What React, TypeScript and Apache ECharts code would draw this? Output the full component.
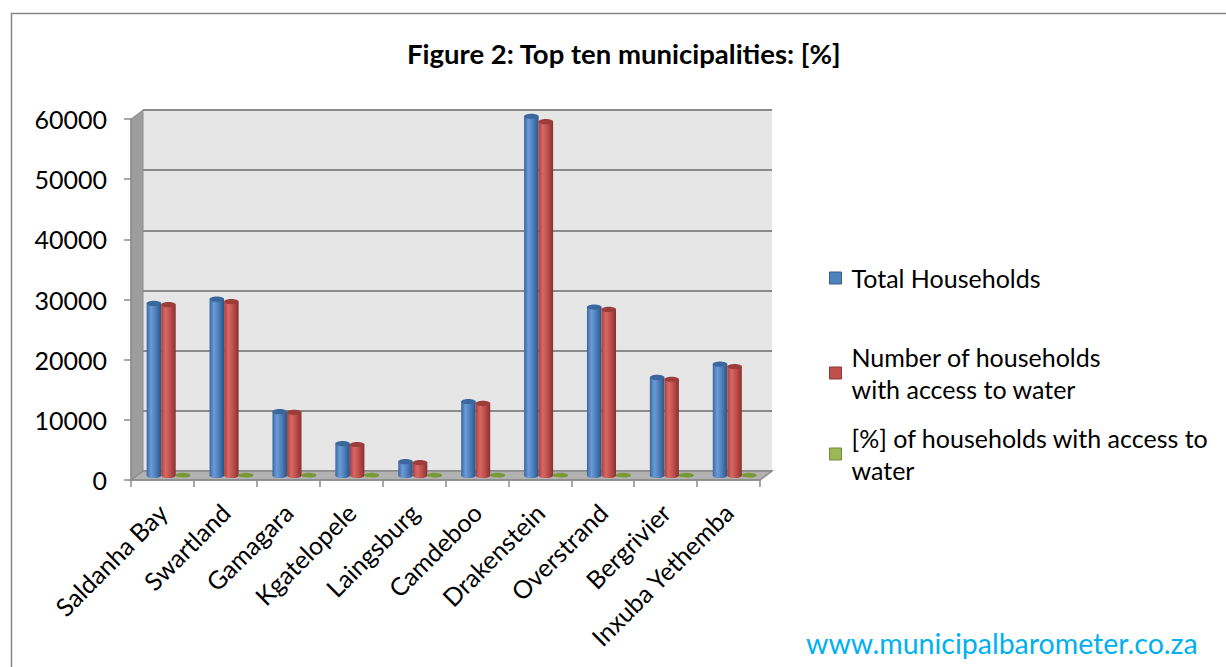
import React, { useEffect, useRef } from "react";
import * as echarts from "echarts";

const categories = [
  "Saldanha Bay",
  "Swartland",
  "Gamagara",
  "Kgatelopele",
  "Laingsburg",
  "Camdeboo",
  "Drakenstein",
  "Overstrand",
  "Bergrivier",
  "Inxuba Yethemba",
];
const totalHouseholds = [28600, 29300, 10600, 5300, 2300, 12300, 59700, 28000, 16300, 18500];
const householdsWithWater = [28400, 28900, 10500, 5150, 2150, 12000, 58800, 27600, 16000, 18100];
const pctWithWater = [99.3, 98.6, 99.1, 97.2, 93.5, 97.6, 98.5, 98.6, 98.2, 97.8];
const yTicks = { min: 0, max: 60000, interval: 10000 };

const seriesNames = [
  "Total Households",
  "Number of households with access to water",
  "[%] of households with access to water",
];

const FONT = "Lato";

// layout constants (front plane, back plane offset)
const FX = 131, FY = 119, FW = 629, FH = 361;
const DX = 12, DY = -9;

const palettes = [
  { edgeL: "#3a67a0", light: "#6b9bd8", main: "#4f81bd", edgeR: "#2b5487", cap: "#3b679c", border: "#385d8a" },
  { edgeL: "#a8423f", light: "#d76965", main: "#c0504d", edgeR: "#883230", cap: "#9c3d3a", border: "#8c3836" },
  { edgeL: "#6f8a36", light: "#9ab955", main: "#86a443", edgeR: "#5f7a2c", cap: "#7a9a3a", border: "#71893f" },
];

function grad(p: any) {
  return {
    type: "linear",
    x: 0, y: 0, x2: 1, y2: 0,
    colorStops: [
      { offset: 0, color: p.edgeL },
      { offset: 0.3, color: p.light },
      { offset: 0.6, color: p.main },
      { offset: 1, color: p.edgeR },
    ],
  };
}

function makeRender(k: number) {
  const p = palettes[k];
  return (params: any, api: any) => {
    const idx = api.value(0);
    const val = api.value(1);
    const top = api.coord([idx, val]);
    const base = api.coord([idx, 0]);
    const catW = api.size([1, 0])[0];
    const bw = catW * 0.231;
    const cx = top[0] + (k - 1) * bw;
    const ry = k === 2 ? 2.2 : 2.6;
    const h = Math.max(base[1] - top[1], 0);
    return {
      type: "group",
      children: [
        { type: "ellipse", shape: { cx, cy: base[1], rx: bw / 2, ry }, style: { fill: grad(p) } },
        { type: "rect", shape: { x: cx - bw / 2, y: top[1], width: bw, height: h }, style: { fill: grad(p) } },
        { type: "ellipse", shape: { cx, cy: top[1], rx: bw / 2, ry }, style: { fill: p.cap } },
      ],
    };
  };
}

export default function App() {
  const ref = useRef<HTMLDivElement>(null);
  useEffect(() => {
    if (!ref.current) return;
    const chart = echarts.init(ref.current, null, { renderer: "svg" });
    const dataSets = [totalHouseholds, householdsWithWater, pctWithWater];
    const legendText = { fontFamily: FONT, fontSize: 25, color: "#000", lineHeight: 32 };
    const option: any = {
      animation: false,
      backgroundColor: "#ffffff",
      title: {
        text: "Figure 2: Top ten municipalities: [%]",
        left: 402,
        top: 34,
        textStyle: { fontFamily: FONT, fontSize: 27.5, fontWeight: "bold", color: "#000" },
      },
      grid: [
        { left: FX + DX, top: FY + DY, width: FW, height: FH, show: true, backgroundColor: "#e6e6e6", borderWidth: 0, z: 0 },
        { left: FX, top: FY, width: FW, height: FH, show: false },
        { left: FX + DX / 2, top: FY + DY / 2, width: FW, height: FH, show: false },
      ],
      xAxis: [
        { type: "category", gridIndex: 0, data: categories, show: false },
        {
          type: "category",
          gridIndex: 1,
          data: categories,
          z: 6,
          axisLine: { show: true, lineStyle: { color: "#8c8c8c", width: 1.5 } },
          axisTick: { show: true, length: 7, lineStyle: { color: "#8c8c8c", width: 1.5 } },
          axisLabel: {
            rotate: 45, margin: 28,
            fontFamily: FONT, fontSize: 25, color: "#000", interval: 0,
          },
        },
        { type: "category", gridIndex: 2, data: categories, show: false },
      ],
      yAxis: [
        {
          type: "value", gridIndex: 0, ...yTicks,
          axisLine: { show: false }, axisTick: { show: false }, axisLabel: { show: false },
          splitLine: { show: true, lineStyle: { color: "#8a8a8a", width: 2 } },
        },
        {
          type: "value", gridIndex: 1, ...yTicks, z: 6,
          axisLine: { show: true, lineStyle: { color: "#8c8c8c", width: 1.5 } },
          axisTick: { show: true, length: 7, lineStyle: { color: "#8c8c8c", width: 1.5 } },
          axisLabel: { margin: 24, fontFamily: FONT, fontSize: 25, color: "#000", formatter: (v: number) => String(v) },
          splitLine: { show: false },
        },
        { type: "value", gridIndex: 2, ...yTicks, show: false, splitLine: { show: false } },
      ],
      legend: [
        {
          data: [{ name: seriesNames[0], itemStyle: { color: palettes[0].main, borderColor: palettes[0].border, borderWidth: 1 } }],
          left: 829, top: 262, padding: 0, icon: "rect", itemWidth: 12, itemHeight: 12,
          textStyle: { ...legendText, padding: [0, 0, 0, 5] },
          selectedMode: false,
        },
        {
          data: [{ name: seriesNames[1], itemStyle: { color: palettes[1].main, borderColor: palettes[1].border, borderWidth: 1 } }],
          left: 829, top: 325, padding: 0, icon: "rect", itemWidth: 12, itemHeight: 12,
          formatter: () => "Number of households\nwith access to water",
          textStyle: { ...legendText, padding: [32, 0, 0, 5] },
          selectedMode: false,
        },
        {
          data: [{ name: seriesNames[2], itemStyle: { color: palettes[2].light, borderColor: palettes[2].border, borderWidth: 1 } }],
          left: 829, top: 406, padding: 0, icon: "rect", itemWidth: 12, itemHeight: 12,
          formatter: () => "[%] of households with access to\nwater",
          textStyle: { ...legendText, padding: [32, 0, 0, 5] },
          selectedMode: false,
        },
      ],
      graphic: [
        {
          type: "rect", z: 0, silent: true,
          shape: { x: 11.5, y: 13.5, width: 1400, height: 800 },
          style: { fill: "none", stroke: "#878787", lineWidth: 1.5 },
        },
        {
          type: "polygon", z: 1, silent: true,
          shape: { points: [[FX, FY], [FX + DX, FY + DY], [FX + DX, FY + FH + DY], [FX, FY + FH]] },
          style: { fill: "#9d9d9d", stroke: "#8c8c8c", lineWidth: 1 },
        },
        {
          type: "polygon", z: 1, silent: true,
          shape: { points: [[FX, FY + FH], [FX + DX, FY + FH + DY], [FX + FW + DX, FY + FH + DY], [FX + FW, FY + FH]] },
          style: { fill: "#b2b2b2", stroke: "#8c8c8c", lineWidth: 1.5 },
        },
        {
          type: "text", z: 10, silent: true,
          x: 806, y: 628,
          style: { text: "www.municipalbarometer.co.za", fontFamily: FONT, fontSize: 28.5, fill: "#00b0f0" },
        },
      ],
      series: dataSets.map((d, k) => ({
        type: "custom",
        name: seriesNames[k],
        xAxisIndex: 2,
        yAxisIndex: 2,
        z: 4,
        itemStyle: { color: palettes[k].main },
        encode: { x: 0, y: 1 },
        data: d.map((v, i) => [i, v]),
        renderItem: makeRender(k),
      })),
    };
    chart.setOption(option);
    return () => chart.dispose();
  }, []);
  return <div ref={ref} style={{ position: "absolute", left: 0, top: 0, width: 1226, height: 667 }} />;
}
